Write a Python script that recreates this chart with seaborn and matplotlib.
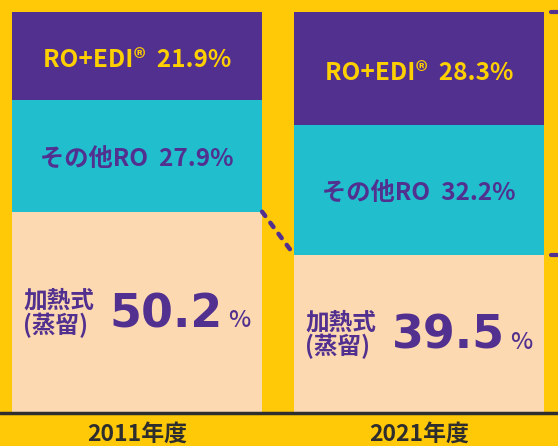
import matplotlib
matplotlib.use("Agg")
import matplotlib.pyplot as plt
import seaborn as sns
import pandas as pd

# Data
years = ["2011年度", "2021年度"]
ro_edi = [21.9, 28.3]
other_ro = [27.9, 32.2]
thermal = [50.2, 39.5]

# Colours
YELLOW = "#FFC908"
PURPLE = "#51308F"
CYAN = "#21BECE"
PEACH = "#FDD9B1"
TEXT_YELLOW = "#FFD000"
DARK = "#2E2E2E"

sns.set_theme(style="white")
plt.rcParams["font.family"] = ["Noto Sans CJK JP", "DejaVu Sans"]

df = pd.DataFrame({"year": years, "ro_edi": ro_edi, "other_ro": other_ro, "thermal": thermal})
df["top"] = df["ro_edi"] + df["other_ro"] + df["thermal"]
df["mid"] = df["other_ro"] + df["thermal"]

fig = plt.figure(figsize=(5.58, 4.46), dpi=100, facecolor=YELLOW)
ax = fig.add_axes([0, 33 / 446, 1, 401 / 446])
ax.set_facecolor(YELLOW)

W = 0.887
for col, c in [("top", PURPLE), ("mid", CYAN), ("thermal", PEACH)]:
    sns.barplot(data=df, x="year", y=col, color=c, saturation=1, width=W, ax=ax, linewidth=0)

ax.set_xlim(-137 / 282, 421 / 282)
ax.set_ylim(0, 100)
ax.set_xlabel("")
ax.set_ylabel("")
ax.set_yticks([])
for s in ax.spines.values():
    s.set_visible(False)
ax.axhline(0, color=DARK, lw=2.5, clip_on=False, zorder=5)
ax.tick_params(axis="x", length=0, pad=7)
for lab in ax.get_xticklabels():
    lab.set_fontsize(16.5)
    lab.set_fontweight("bold")
    lab.set_color(DARK)

# dashed connector between bars
ax.plot([W / 2, 1 - W / 2], [thermal[0], thermal[1]], color=PURPLE, lw=3.2,
        ls=(0, (1.2, 1.9)), dash_capstyle="round", zorder=4)
# connectors leaving to the right edge
for yv in [100, thermal[1]]:
    ax.plot([1 + W / 2 + 0.025, 1.6], [yv, yv], color=PURPLE, lw=3,
            clip_on=False, zorder=4)

for i in range(len(years)):
    y_top = thermal[i] + other_ro[i] + ro_edi[i] / 2
    y_mid = thermal[i] + other_ro[i] / 2
    y_bot = thermal[i] / 2
    ax.annotate(f"RO+EDI®  {ro_edi[i]}%", (i, y_top), xytext=(0, -4), textcoords="offset pixels",
                ha="center", va="center", fontsize=17.5, fontweight="bold", color=TEXT_YELLOW)
    ax.annotate(f"その他RO  {other_ro[i]}%", (i, y_mid), xytext=(0, -4), textcoords="offset pixels",
                ha="center", va="center", fontsize=17.5, fontweight="bold", color=PURPLE)
    ax.annotate("加熱式\n(蒸留)", (i, y_bot), xytext=(-114, -1), textcoords="offset pixels",
                ha="left", va="center", fontsize=17, fontweight="bold", color=PURPLE,
                linespacing=1.0)
    ax.annotate(f"{thermal[i]}", (i, y_bot), xytext=(86, -15), textcoords="offset pixels",
                ha="right", va="baseline", fontsize=33, fontweight="bold", color=PURPLE,
                family="DejaVu Sans")
    ax.annotate("%", (i, y_bot), xytext=(91, -15), textcoords="offset pixels",
                ha="left", va="baseline", fontsize=17, fontweight="medium", color=PURPLE)

fig.savefig("out.png", dpi=100, facecolor=YELLOW)
